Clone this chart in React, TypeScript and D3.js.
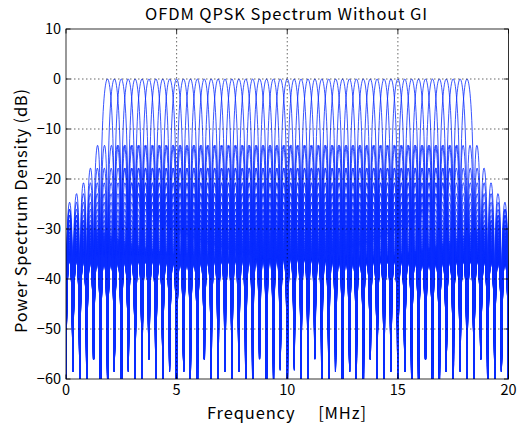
import React from "react";
import * as d3 from "d3";

// ---- data ----
const subcarrierIndex: number[] = [
  -26, -25, -24, -23, -22, -21, -20, -19, -18, -17, -16, -15, -14, -13,
  -12, -11, -10, -9, -8, -7, -6, -5, -4, -3, -2, -1, 0,
  1, 2, 3, 4, 5, 6, 7, 8, 9, 10, 11, 12, 13,
  14, 15, 16, 17, 18, 19, 20, 21, 22, 23, 24, 25, 26,
];
const subcarrierSpacingMHz = 0.3125;
const centerFreqMHz = 10;
const fftSize = 64;
const sampleRateMHz = 20;
const freqStepMHz = 0.02;

const xTicks: number[] = [0, 5, 10, 15, 20];
const yTicks: number[] = [10, 0, -10, -20, -30, -40, -50, -60];
const xGrid: number[] = [5, 10, 15];
const yGrid: number[] = [0, -10, -20, -30, -40, -50];

const titleText = "OFDM QPSK Spectrum Without GI";
const xLabelText = "Frequency\u00a0\u00a0\u00a0\u00a0\u00a0[MHz]";
const yLabelText = "Power Spectrum Density (dB)";

// ---- layout ----
const W = 519;
const H = 425;
const M = { left: 66, right: 519 - 508.5, top: 29, bottom: 425 - 379 };
const FONT = "'Noto Sans CJK JP', 'Noto Sans', sans-serif";

function psdDb(f: number, fk: number): number {
  const x = (Math.PI * (f - fk)) / sampleRateMHz;
  const s = Math.sin(x);
  if (Math.abs(s) < 1e-12) return 0;
  const v = Math.sin(fftSize * x) / (fftSize * s);
  const p = v * v;
  return 10 * Math.log10(Math.max(p, 1e-12));
}

export default function App() {
  const x = d3.scaleLinear().domain([0, 20]).range([M.left, W - M.right]);
  const y = d3.scaleLinear().domain([-60, 10]).range([H - M.bottom, M.top]);

  const n = Math.round(20 / freqStepMHz);
  const freqs = d3.range(n + 1).map((i) => i * freqStepMHz);

  const line = d3
    .line<number[]>()
    .x((d) => x(d[0]))
    .y((d) => y(Math.max(d[1], -80)));

  const paths = subcarrierIndex.map((k) => {
    const fk = centerFreqMHz + k * subcarrierSpacingMHz;
    const pts = freqs.map((f) => [f, psdDb(f, fk)]);
    return line(pts) || "";
  });

  const x0 = M.left;
  const x1 = W - M.right;
  const y0 = M.top;
  const y1 = H - M.bottom;
  const tickLen = 4.5;

  return (
    <svg width={W} height={H} style={{ position: "absolute", left: 0, top: 0, background: "#fff" }}>
      <defs>
        <clipPath id="plotClip">
          <rect x={x0} y={y0} width={x1 - x0} height={y1 - y0} />
        </clipPath>
      </defs>
      <rect x={0} y={0} width={W} height={H} fill="#fff" />
      <g clipPath="url(#plotClip)">
        {paths.map((d, i) => (
          <path key={i} d={d} fill="none" stroke="#0a2dff" strokeWidth={0.9} strokeOpacity={0.9} />
        ))}
      </g>
      {/* grid */}
      <g stroke="#000" strokeWidth={0.6} strokeDasharray="1.5,2.5">
        {xGrid.map((v) => (
          <line key={"gx" + v} x1={x(v)} x2={x(v)} y1={y0} y2={y1} />
        ))}
        {yGrid.map((v) => (
          <line key={"gy" + v} x1={x0} x2={x1} y1={y(v)} y2={y(v)} />
        ))}
      </g>
      {/* box */}
      <rect x={x0} y={y0} width={x1 - x0} height={y1 - y0} fill="none" stroke="#000" strokeWidth={0.8} />
      {/* ticks */}
      <g stroke="#000" strokeWidth={0.8}>
        {xTicks.map((v) => (
          <g key={"tx" + v}>
            <line x1={x(v)} x2={x(v)} y1={y1} y2={y1 - tickLen} />
            <line x1={x(v)} x2={x(v)} y1={y0} y2={y0 + tickLen} />
          </g>
        ))}
        {yTicks.map((v) => (
          <g key={"ty" + v}>
            <line x1={x0} x2={x0 + tickLen} y1={y(v)} y2={y(v)} />
            <line x1={x1} x2={x1 - tickLen} y1={y(v)} y2={y(v)} />
          </g>
        ))}
      </g>
      {/* tick labels */}
      <g fontFamily={FONT} fontSize={14.5} fill="#000">
        {xTicks.map((v) => (
          <text key={"lx" + v} x={x(v)} y={y1 + 16} textAnchor="middle">
            {v}
          </text>
        ))}
        {yTicks.map((v) => (
          <text key={"ly" + v} x={x0 - 5} y={y(v) + 4.5} textAnchor="end">
            {v < 0 ? "\u2212" + Math.abs(v) : String(v)}
          </text>
        ))}
      </g>
      <text
        x={145}
        y={20}
        fontFamily={FONT}
        fontSize={16.5}
        fill="#000"
        textLength={282}
        lengthAdjust="spacing"
      >
        {titleText}
      </text>
      <text
        x={207}
        y={419}
        fontFamily={FONT}
        fontSize={16.5}
        fill="#000"
        textLength={159}
        lengthAdjust="spacing"
      >
        {xLabelText}
      </text>
      <text
        transform={`translate(27, 333) rotate(-90)`}
        fontFamily={FONT}
        fontSize={16.5}
        fill="#000"
        textLength={244}
        lengthAdjust="spacing"
      >
        {yLabelText}
      </text>
    </svg>
  );
}
